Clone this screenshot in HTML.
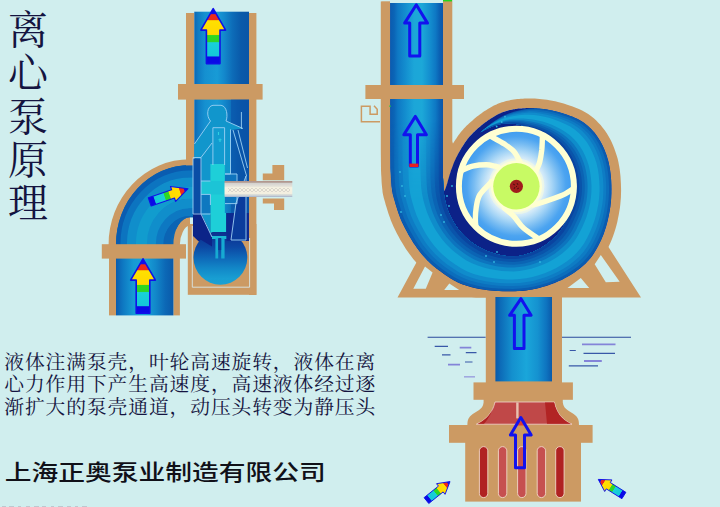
<!DOCTYPE html>
<html lang="zh-CN"><head><meta charset="utf-8"><title>离心泵原理</title>
<style>
html,body{margin:0;padding:0;background:#d0eeee;}
body{width:720px;height:507px;overflow:hidden;font-family:"Liberation Sans",sans-serif;}
svg{display:block;}
</style></head><body>
<svg width="720" height="507" viewBox="0 0 720 507" role="img" aria-label="离心泵原理">
<rect width="720" height="507" fill="#d0eeee"/>
<defs><linearGradient id="pL1" gradientUnits="userSpaceOnUse" x1="194" y1="0" x2="249" y2="0"><stop offset="0" stop-color="#0c66b4"/><stop offset="0.08" stop-color="#0f7cc4"/><stop offset="0.2" stop-color="#1590d0"/><stop offset="0.42" stop-color="#189bd6"/><stop offset="0.55" stop-color="#1388cc"/><stop offset="0.7" stop-color="#0d6cb8"/><stop offset="0.85" stop-color="#0a5aaa"/><stop offset="1" stop-color="#0a55a6"/></linearGradient><linearGradient id="pL2" gradientUnits="userSpaceOnUse" x1="116" y1="0" x2="174" y2="0"><stop offset="0" stop-color="#0b5cae"/><stop offset="0.12" stop-color="#0e78c2"/><stop offset="0.3" stop-color="#169ad4"/><stop offset="0.5" stop-color="#18a2d8"/><stop offset="0.68" stop-color="#1288ca"/><stop offset="0.85" stop-color="#0c68b6"/><stop offset="1" stop-color="#0a58a8"/></linearGradient><linearGradient id="pR1" gradientUnits="userSpaceOnUse" x1="390.4" y1="0" x2="443" y2="0"><stop offset="0" stop-color="#0a5cb0"/><stop offset="0.07" stop-color="#0b64b6"/><stop offset="0.14" stop-color="#0e78c4"/><stop offset="0.3" stop-color="#1490d0"/><stop offset="0.45" stop-color="#1ca6d8"/><stop offset="0.6" stop-color="#1ca8d8"/><stop offset="0.74" stop-color="#1490d0"/><stop offset="0.86" stop-color="#0e78c4"/><stop offset="0.93" stop-color="#0b62b4"/><stop offset="1" stop-color="#0a56aa"/></linearGradient><linearGradient id="pR2" gradientUnits="userSpaceOnUse" x1="495" y1="0" x2="552" y2="0"><stop offset="0" stop-color="#0a58a8"/><stop offset="0.1" stop-color="#0d6cb8"/><stop offset="0.3" stop-color="#1490ce"/><stop offset="0.55" stop-color="#1aa6da"/><stop offset="0.75" stop-color="#1592d0"/><stop offset="0.9" stop-color="#0e74c0"/><stop offset="1" stop-color="#0a5aaa"/></linearGradient><linearGradient id="rb" gradientUnits="userSpaceOnUse" x1="0" y1="55" x2="0" y2="0"><stop offset="0" stop-color="#0a0ae6"/><stop offset="0.12" stop-color="#0a0ae6"/><stop offset="0.14" stop-color="#14c8d8"/><stop offset="0.38" stop-color="#18d0d8"/><stop offset="0.40" stop-color="#2cd428"/><stop offset="0.51" stop-color="#30d820"/><stop offset="0.53" stop-color="#ffd800"/><stop offset="0.78" stop-color="#ffe000"/><stop offset="0.80" stop-color="#ee2a1a"/><stop offset="0.89" stop-color="#ee2a1a"/><stop offset="0.91" stop-color="#1010e8"/><stop offset="1" stop-color="#1010e8"/></linearGradient><path id="ra" d="M0 0 12.4 21.5 6.8 21.5 6.8 55 -6.8 55 -6.8 21.5 -12.4 21.5Z" fill="url(#rb)" stroke="#1010e8" stroke-width="1.6" stroke-linejoin="round"/><linearGradient id="sph" x1="0" y1="0" x2="0" y2="1"><stop offset="0" stop-color="#0c2c8c"/><stop offset="0.3" stop-color="#0c48a4"/><stop offset="0.5" stop-color="#0e68b8"/><stop offset="0.7" stop-color="#1288c8"/><stop offset="0.88" stop-color="#189ed2"/><stop offset="1" stop-color="#1aa0d4"/></linearGradient><radialGradient id="imp" gradientUnits="userSpaceOnUse" cx="516.4" cy="186.3" r="59"><stop offset="0.40" stop-color="#eef8fc"/><stop offset="0.5" stop-color="#cfe8f8"/><stop offset="0.6" stop-color="#a8d6f6"/><stop offset="0.72" stop-color="#78bcf2"/><stop offset="0.84" stop-color="#4ca4f0"/><stop offset="1" stop-color="#3a98f0"/></radialGradient><linearGradient id="sh" x1="0" y1="0" x2="0" y2="1"><stop offset="0" stop-color="#b09088"/><stop offset="0.1" stop-color="#b8a8a0"/><stop offset="0.15" stop-color="#d4d2d0"/><stop offset="0.34" stop-color="#e6e4da"/><stop offset="0.42" stop-color="#f6f2e2"/><stop offset="0.78" stop-color="#f3efe0"/><stop offset="0.85" stop-color="#d8dcd8"/><stop offset="0.94" stop-color="#c4ccd4"/><stop offset="1" stop-color="#9cacc8"/></linearGradient><pattern id="zz" patternUnits="userSpaceOnUse" x="228" y="188" width="4" height="4"><path d="M0 0l2 2l2-2M0 4l2-2l2 2" fill="none" stroke="#d0ccc4" stroke-width="0.7"/></pattern><linearGradient id="fade" gradientUnits="userSpaceOnUse" x1="0" y1="120" x2="0" y2="200"><stop offset="0" stop-color="#fff"/><stop offset="1" stop-color="#000"/></linearGradient><mask id="fm" maskUnits="userSpaceOnUse" x="380" y="0" width="80" height="210"><rect x="380" y="0" width="80" height="210" fill="url(#fade)"/></mask></defs>
<g id="left-pump"><path d="M108.6 245 A81.4 85 0 0 1 190 159.2 L190 225 A12.2 20.5 0 0 0 179.8 245Z" fill="#cc9a63"/><path d="M116 245 A74 79.2 0 0 1 190 165 L194 165 194 217.3 190 217.3 A16.6 27 0 0 0 173.4 245Z" fill="#0c68b6"/><clipPath id="elc"><path d="M116 245 A74 79.2 0 0 1 190 165 L194 165 194 217.3 190 217.3 A16.6 27 0 0 0 173.4 245Z"/></clipPath><g clip-path="url(#elc)" fill="none"><path d="M118 246 A72 76.3 0 0 1 190 167.7 L196 167.7" stroke="#0a5cb0" stroke-width="6"/><path d="M124 246 A66 70.0 0 0 1 190 174.0 L196 174.0" stroke="#0c74c0" stroke-width="7"/><path d="M132 246 A58 61.5 0 0 1 190 182.5 L196 182.5" stroke="#108ecb" stroke-width="10"/><path d="M142 246 A48 50.9 0 0 1 190 193.1 L196 193.1" stroke="#119cce" stroke-width="12"/><path d="M152 246 A38 40.3 0 0 1 190 203.7 L196 203.7" stroke="#108ecb" stroke-width="10"/><path d="M160 246 A30 31.8 0 0 1 190 212.2 L196 212.2" stroke="#0d78c2" stroke-width="8"/><path d="M167 246 A23 24.4 0 0 1 190 219.6 L196 219.6" stroke="#0b64b4" stroke-width="7"/></g><rect x="186" y="13" width="8.3" height="152.4" fill="#cc9a63"/><rect x="249" y="13" width="7.4" height="282" fill="#cc9a63"/><rect x="194.3" y="11.7" width="54.7" height="230" fill="url(#pL1)"/><rect x="187.8" y="224" width="68.6" height="70.8" fill="#cc9a63"/><path d="M192.3 226V287.2H249.6V238" fill="none" stroke="#d8e8e8" stroke-width="0.9"/><rect x="178" y="84" width="84.6" height="15.6" fill="#cc9a63"/><rect x="231" y="99.6" width="18" height="114" fill="#0a50a8" opacity="0.55"/><path d="M210.5 121 C206 116 207 106 213 105.3 H221 C227 106 228 116 226 121 L243 128.5 L231 130 V175 H225 V238 H201 V158 H194.4 V144Z" fill="#1196cc"/><rect x="193" y="159" width="8.2" height="55" fill="#0a4ea6"/><rect x="225" y="173.6" width="12" height="30" fill="#0e74be"/><rect x="213" y="127.7" width="11.6" height="37" fill="#129cd0"/><path d="M218.5 132v3M220 138.5v3.5M218.5 139.8h3" stroke="#30d0e0" stroke-width="1.1"/><rect x="210.4" y="164" width="14.4" height="74" fill="#1ecfd8"/><rect x="201" y="181" width="23.6" height="13.5" fill="#1cc4d6"/><rect x="201" y="194.5" width="9.4" height="19" fill="#0d78c0"/><path d="M193 213.5 H201.2 L210.4 233 V213.5 H226 V213 H249 V241 H226.5 L220 262 L193 236Z" fill="#0c2488"/><rect x="210.4" y="213" width="15.8" height="24" fill="#1ecfd8"/><clipPath id="spc"><rect x="190" y="232" width="62" height="56"/></clipPath><circle cx="220.4" cy="257.8" r="26.9" fill="url(#sph)" clip-path="url(#spc)"/><path d="M193 213.5 H201.2 L212 237 L212 246.5 L193 235Z" fill="#0c2488"/><path d="M226.5 213 H249 V241 H226.5Z" fill="#0c2a90"/><path d="M231 241 L236 205 L246 178 V241Z" fill="#0a3c9c"/><path d="M212 236 h14.3 v3 h-14.3z" fill="#1ab8d4"/><path d="M215.4 238 h2.8 v20.6 h-2.8z M221.2 238 h3.4 v20.6 h-3.4z" fill="#16aad2"/><path d="M218.2 238 h3 v12 h-3z" fill="#0c3c98"/><g fill="none" stroke="#9cd0f4" stroke-width="0.9"><path d="M210.5 121 C206 116 207 106 213 105.3 H221 C227 106 228 116 226 121 L243 128.5"/><path d="M210.5 121 L194.4 144"/><path d="M241.4 112 V129"/><path d="M212.9 165 V127.7 H224.6 V165"/><path d="M212 143 L201 157.5 H193 V214 H201 V157.5"/><path d="M230.5 129.4 V174 H225"/><path d="M233 130 L246.6 176 M238 130 L247.5 168"/><path d="M201 181 H210.4 M201 194.4 H210.4 V205"/><path d="M225 174 H237 V203.6 H225"/><path d="M236 203 L246 176 V240 H231 L236 203"/><path d="M201 214 L212 237 M201 214 H210.4"/></g><path d="M272.4 165H284.2V180.3H262.8V173.4H272.4Z M262.8 198.4H284.2V210H274V203.6H262.8Z" fill="#cc9a63"/><rect x="224.5" y="181" width="67.8" height="16" fill="url(#sh)"/><rect x="228" y="188" width="62" height="4" fill="url(#zz)"/><rect x="109" y="250" width="7" height="65.4" fill="#cc9a63"/><rect x="173.4" y="250" width="6.5" height="65.4" fill="#cc9a63"/><rect x="116" y="250" width="57.4" height="65.4" fill="url(#pL2)"/><rect x="101.8" y="244.2" width="84.2" height="14.4" fill="#cc9a63"/><use href="#ra" transform="translate(213.2 8.6)"/><use href="#ra" transform="translate(143 258.8) scale(1 0.99)"/><use href="#ra" transform="translate(188 188.8) rotate(71) scale(0.64 0.735)"/></g>
<g id="right-pump"><clipPath id="tc"><rect x="370" y="0" width="280" height="297.4"/></clipPath><path d="M380.8 1.2 380.8 150 381 170.1 381.1 172.4 381.2 174.8 381.4 177.2 381.5 179.7 381.6 182.1 381.8 184.4 382 186.6 382.2 188.5 382.4 190.1 382.5 191.5 382.7 193 383 194.5 383.4 196.2 383.8 197.9 384.4 199.9 385 202.1 385.7 204.7 386.6 207.5 387.5 210.6 388.5 213.8 389.7 217.1 390.9 220.5 392.3 223.8 393.7 227 395.3 230.3 396.9 233.5 398.7 236.8 400.4 239.9 402.3 243.1 404.1 246.1 405.9 248.9 407.7 251.6 409.5 254.1 411.4 256.6 413.2 258.9 415 261.1 416.9 263.2 418.7 265.2 420.5 267.1 422.4 269 424.3 270.8 426.2 272.5 428.1 274.1 429.9 275.6 431.9 277 433.8 278.5 435.8 279.9 437.8 281.3 439.9 282.7 442 284.2 444.3 285.8 446.8 287.3 449.5 288.9 452.3 290.4 455.4 291.8 458.4 293 461.5 294.1 464.8 295.2 468.1 296.1 471.5 297 475 297.8 478.7 298.5 482.4 299.1 486.3 299.6 490.4 300.1 494.6 300.4 498.9 300.7 503.3 300.8 507.5 300.9 511.7 300.9 515.6 300.8 519.3 300.7 522.9 300.4 526.3 300.1 529.6 299.6 532.8 299.1 536 298.5 539.2 297.8 542.4 297 545.7 296 549.1 295 552.5 293.9 555.9 292.7 559.4 291.4 562.8 289.9 566.2 288.3 569.6 286.6 572.8 284.8 576 282.8 579.2 280.8 582.3 278.6 585.4 276.3 588.5 273.8 591.4 271.2 594.2 268.4 596.8 265.5 599.2 262.4 601.5 259.3 603.5 256 605.4 252.8 607.2 249.5 608.8 246.2 610.3 242.9 611.8 239.6 613.1 236.1 614.3 232.5 615.4 229 616.4 225.4 617.3 221.9 618 218.3 618.7 214.9 619.3 211.4 619.9 207.9 620.3 204.4 620.6 200.9 620.9 197.4 621 193.9 621.1 190.4 621 186.9 620.9 183.4 620.7 179.9 620.5 176.4 620.1 172.8 619.7 169.2 619.1 165.7 618.4 162.1 617.6 158.6 616.6 155.2 615.5 151.9 614.3 148.6 613 145.3 611.6 142.1 610.1 139 608.4 136 606.6 133.1 604.7 130.3 602.7 127.7 600.6 125.1 598.3 122.7 596 120.3 593.5 118.1 590.9 116.1 588.2 114.1 585.2 112.2 582.1 110.5 578.9 109 575.7 107.7 572.6 106.5 569.5 105.4 566.5 104.5 563.7 103.6 560.8 102.7 557.9 102 555.1 101.3 552.2 100.7 549.5 100.3 546.9 99.8 544.3 99.5 541.9 99.2 539.5 98.9 537.1 98.7 534.8 98.5 532.6 98.5 530.4 98.5 528.4 98.5 526.5 98.5 524.7 98.6 522.8 98.7 520.9 98.8 519.1 98.9 517.3 99.1 515.6 99.3 513.9 99.5 512.3 99.8 510.7 100.1 509.2 100.4 507.6 100.7 506.2 101.1 504.7 101.4 503.3 101.9 501.9 102.3 500.5 102.8 499.1 103.3 497.8 103.8 496.5 104.4 495.2 105 493.9 105.6 492.6 106.3 491.4 106.9 490.1 107.7 488.8 108.5 487.5 109.3 486.1 110.2 484.6 111.1 483.1 112.1 481.6 113.2 480.1 114.3 478.5 115.4 477 116.6 475.5 117.8 474 119.1 472.5 120.4 471 121.7 469.5 123.1 468 124.4 466.5 125.8 465.2 127.2 463.9 128.6 462.7 130 461.5 131.3 460.5 132.6 459.4 134 458.4 135.3 457.4 136.7 456.5 138.2 455.4 139.7 454.4 141.3 453.3 143 452.3 144.7 451.2 146.5 450.2 148.4 449.2 150.2 448.2 152.1 447.3 154.1 446.4 156 445.5 158 444.7 160 443.9 161.9 443.2 163.9 442.5 165.8 441.9 167.6 441.2 169.6 440.5 171.6 439.9 173.7 439.4 175.6 438.8 177.5 438.4 179.2 437.9 180.7 437.6 181.9 437.2 182.9 437 183.7 436.8 184.3 436.6 184.8 436.4 185.2 436.2 185.7 435.9 186.4 435.6 187.1 435.5 187.4 444.5 190.8 444.7 190.2 445 189.6 445.2 189.1 445.4 188.5 445.7 187.9 445.9 187.2 446.2 186.3 446.6 185.2 447 183.9 447.4 182.3 447.9 180.7 448.4 178.8 449 177 449.5 175.1 450.1 173.2 450.7 171.4 451.3 169.6 452 167.8 452.7 166 453.4 164.2 454.1 162.3 454.9 160.5 455.7 158.7 456.5 157 457.4 155.3 458.3 153.6 459.2 151.9 460.2 150.2 461.2 148.6 462.2 147 463.1 145.5 464.1 144 465 142.6 465.9 141.3 466.8 140.1 467.7 139 468.6 137.8 469.6 136.7 470.6 135.5 471.7 134.3 472.9 133.1 474.2 131.8 475.5 130.5 476.9 129.3 478.3 128 479.7 126.8 481.1 125.6 482.5 124.5 483.9 123.4 485.3 122.4 486.7 121.4 488.1 120.4 489.5 119.4 490.8 118.5 492.1 117.7 493.4 116.9 494.6 116.2 495.7 115.5 496.8 114.9 497.9 114.4 498.9 113.8 500 113.3 501.1 112.9 502.2 112.4 503.4 112 504.5 111.5 505.7 111.2 506.9 110.8 508.1 110.5 509.3 110.2 510.6 109.9 512 109.6 513.4 109.3 514.8 109.1 516.3 108.9 517.8 108.7 519.4 108.5 521 108.4 522.7 108.3 524.4 108.2 526.2 108.1 528 108.1 529.8 108.1 531.7 108.1 533.7 108.1 535.7 108.2 537.8 108.4 540 108.6 542.3 108.9 544.6 109.2 547.1 109.6 549.6 110 552.2 110.5 554.8 111.1 557.4 111.7 560 112.5 562.7 113.3 565.5 114.2 568.4 115.2 571.2 116.2 574.1 117.4 576.9 118.6 579.5 120 582 121.5 584.3 123.1 586.6 124.9 588.7 126.7 590.8 128.7 592.7 130.7 594.6 132.9 596.3 135.1 598 137.5 599.6 140 601.1 142.6 602.5 145.3 603.8 148.1 605 151 606.1 154 607.1 157 608 160 608.8 163.1 609.4 166.3 610 169.5 610.4 172.8 610.8 176.1 611.1 179.4 611.3 182.7 611.4 186 611.5 189.2 611.4 192.5 611.3 195.8 611.1 199 610.9 202.2 610.5 205.5 610 208.8 609.5 212 608.9 215.3 608.2 218.6 607.4 221.9 606.5 225.2 605.5 228.5 604.5 231.7 603.3 234.9 602 238 600.6 241.1 599.1 244.1 597.6 247.1 595.9 250.1 594.1 253 592.2 255.8 590.2 258.5 588 261 585.7 263.4 583.1 265.8 580.5 268 577.7 270.1 574.8 272.2 571.9 274.1 568.9 275.9 566 277.6 563 279.2 559.9 280.7 556.8 282 553.7 283.3 550.5 284.5 547.3 285.5 544.1 286.5 541 287.4 538 288.2 535 288.9 532.1 289.5 529.2 290 526.2 290.4 523.1 290.8 519.9 291 516.5 291.2 512.9 291.3 509 291.3 504.9 291.3 500.8 291.1 496.6 290.9 492.6 290.6 488.7 290.3 485 289.8 481.5 289.3 478.1 288.6 474.8 287.9 471.7 287.1 468.6 286.3 465.6 285.3 462.7 284.4 460 283.3 457.4 282.2 454.9 280.9 452.6 279.6 450.3 278.2 448.1 276.8 446.1 275.4 444 273.9 442 272.5 440.1 271.1 438.2 269.8 436.4 268.5 434.7 267.1 433 265.7 431.4 264.2 429.7 262.7 428 261 426.3 259.2 424.6 257.4 422.9 255.5 421.2 253.5 419.5 251.4 417.8 249.2 416.2 246.9 414.5 244.5 412.8 241.9 411.1 239.1 409.4 236.2 407.6 233.2 406 230.1 404.4 227 402.9 224 401.5 221 400.2 218 399.1 215 398 211.8 397 208.8 396.1 205.8 395.2 202.9 394.5 200.3 393.8 198 393.3 196 392.8 194.4 392.5 193.1 392.3 191.9 392.1 190.7 391.9 189.4 391.8 188 391.6 186.3 391.4 184.3 391.2 182.2 391.1 179.9 391 177.6 390.9 175.2 390.7 172.7 390.6 170.3 390.5 168 390.4 60 390.4 0Z" fill="#cc9a63" clip-path="url(#tc)"/><path d="M443 0H452.3V141.3L456.5 157 450.7 171.4 446.6 185.2 444.5 190.8 443 188Z" fill="#cc9a63"/><path d="M397.5 297.4 L418.3 259 L470 285 H563 L607.5 245.5 L641 297.4Z" fill="#cc9a63"/><path d="M413.3 288.8 L425 266.6 L432.6 272.6 L425.8 288.8Z M444.2 290 L449.3 283.6 L459.2 290Z M600.8 255 L619.7 281.8 L605.8 282.2 L594.7 264.2Z M567.5 288 L580.8 278 L589.2 288Z" fill="#d0eeee"/><path d="M390.4 3 390.4 60 390.4 150 390.5 168.8 390.6 170.3 390.7 171.9 390.8 173.5 390.9 175.2 390.9 176.8 391 178.4 391.1 179.9 391.2 181.4 391.3 182.9 391.4 184.3 391.5 185.7 391.7 186.9 391.8 188 391.9 189 392 189.9 392.1 190.7 392.2 191.5 392.4 192.3 392.5 193.1 392.7 194 393 194.9 393.3 196 393.6 197.3 394 198.7 394.5 200.3 395 202 395.5 203.9 396.1 205.8 396.7 207.8 397.3 209.8 398 211.8 398.7 213.9 399.5 216 400.2 218 401.1 220 401.9 222 402.9 224 403.9 226 404.9 228 406 230.1 407.1 232.1 408.2 234.2 409.4 236.2 410.5 238.1 411.7 240.1 412.8 241.9 413.9 243.7 415.1 245.3 416.2 246.9 417.3 248.5 418.4 250 419.5 251.4 420.6 252.8 421.8 254.2 422.9 255.5 424 256.8 425.1 258 426.3 259.2 427.4 260.4 428.6 261.6 429.7 262.7 430.8 263.7 431.9 264.7 433 265.7 434.2 266.6 435.3 267.6 436.4 268.5 437.6 269.3 438.8 270.2 440.1 271.1 441.3 272 442.7 273 444 273.9 445.4 274.9 446.7 275.8 448.1 276.8 449.6 277.7 451.1 278.7 452.6 279.6 454.1 280.5 455.7 281.3 457.4 282.2 459.1 282.9 460.9 283.7 462.7 284.4 464.6 285 466.6 285.7 468.6 286.3 470.6 286.9 472.7 287.4 474.8 287.9 477 288.4 479.2 288.9 481.5 289.3 483.8 289.6 486.2 290 488.7 290.3 491.3 290.5 493.9 290.7 496.6 290.9 499.4 291.1 502.2 291.2 504.9 291.3 507.6 291.3 510.3 291.3 512.9 291.3 515.3 291.2 517.7 291.1 519.9 291 522.1 290.9 524.1 290.7 526.2 290.4 528.2 290.1 530.1 289.8 532.1 289.5 534 289.1 536 288.7 538 288.2 540 287.7 542 287.1 544.1 286.5 546.2 285.9 548.3 285.2 550.5 284.5 552.6 283.7 554.7 282.9 556.8 282 558.9 281.1 561 280.2 563 279.2 565 278.1 567 277 568.9 275.9 570.9 274.7 572.9 273.4 574.8 272.2 576.7 270.8 578.6 269.4 580.5 268 582.3 266.5 584 265 585.7 263.4 587.2 261.8 588.7 260.2 590.2 258.5 591.6 256.7 592.9 254.9 594.1 253 595.3 251.1 596.5 249.1 597.6 247.1 598.6 245.1 599.6 243.1 600.6 241.1 601.5 239 602.4 237 603.3 234.9 604.1 232.8 604.8 230.6 605.5 228.5 606.2 226.3 606.8 224.1 607.4 221.9 607.9 219.7 608.4 217.5 608.9 215.3 609.3 213.1 609.7 210.9 610 208.8 610.4 206.6 610.6 204.4 610.9 202.2 611 200.1 611.2 197.9 611.3 195.8 611.4 193.6 611.4 191.4 611.5 189.2 611.4 187.1 611.4 184.9 611.3 182.7 611.2 180.5 611 178.3 610.8 176.1 610.6 173.9 610.3 171.7 610 169.5 609.6 167.3 609.2 165.2 608.8 163.1 608.3 161 607.7 159 607.1 157 606.5 155 605.7 153 605 151 604.2 149.1 603.4 147.2 602.5 145.3 601.6 143.5 600.6 141.7 599.6 140 598.5 138.3 597.5 136.7 596.3 135.1 595.2 133.6 594 132.1 592.7 130.7 591.4 129.3 590.1 128 588.7 126.7 587.3 125.5 585.8 124.3 584.3 123.1 582.8 122 581.2 121 579.5 120 577.8 119.1 576 118.2 574.1 117.4 572.2 116.6 570.3 115.9 568.4 115.2 566.5 114.5 564.6 113.9 562.7 113.3 560.9 112.8 559.1 112.2 557.4 111.7 555.6 111.3 553.9 110.9 552.2 110.5 550.4 110.2 548.8 109.9 547.1 109.6 545.5 109.3 543.8 109.1 542.3 108.9 540.7 108.7 539.3 108.5 537.8 108.4 536.4 108.3 535 108.2 533.7 108.1 532.4 108.1 531.1 108.1 529.8 108.1 528.6 108.1 527.4 108.1 526.2 108.1 525 108.2 523.8 108.2 522.7 108.3 521.6 108.4 520.5 108.4 519.4 108.5 518.4 108.6 517.3 108.8 516.3 108.9 515.3 109 514.4 109.2 513.4 109.3 512.5 109.5 511.5 109.7 510.6 109.9 509.8 110.1 508.9 110.3 508.1 110.5 507.3 110.7 506.5 110.9 505.7 111.2 504.9 111.4 504.1 111.7 503.4 112 502.6 112.2 501.8 112.6 501.1 112.9 500.3 113.2 499.6 113.5 498.9 113.8 498.2 114.2 497.5 114.5 496.8 114.9 496.1 115.3 495.4 115.7 494.6 116.2 493.8 116.7 493 117.2 492.1 117.7 491.3 118.2 490.4 118.8 489.5 119.4 488.5 120 487.6 120.7 486.7 121.4 485.7 122 484.8 122.7 483.9 123.4 483 124.1 482 124.9 481.1 125.6 480.2 126.4 479.2 127.2 478.3 128 477.4 128.8 476.4 129.7 475.5 130.5 474.6 131.4 473.7 132.2 472.9 133.1 472.1 133.9 471.3 134.7 470.6 135.5 469.9 136.3 469.2 137 468.6 137.8 468 138.6 467.4 139.3 466.8 140.1 466.2 140.9 465.6 141.8 465 142.6 464.4 143.5 463.8 144.5 463.1 145.5 462.5 146.5 461.8 147.5 461.2 148.6 460.5 149.7 459.9 150.8 459.2 151.9 458.6 153 458 154.1 457.4 155.3 456.8 156.4 456.2 157.6 455.7 158.7 455.1 159.9 454.6 161.1 454.1 162.3 453.6 163.5 453.1 164.8 452.7 166 452.2 167.2 451.8 168.4 451.3 169.6 450.9 170.8 450.5 172 450.1 173.2 449.7 174.5 449.3 175.7 449 177 448.6 178.2 448.2 179.5 447.9 180.7 447.6 181.8 447.3 182.9 447 183.9 446.7 184.8 446.5 185.6 446.2 186.3 446 186.9 445.8 187.4 445.7 187.9 445.5 188.3 445.3 188.7 445.2 189.1 445.1 189.4 444.9 189.8 444.7 190.2 444.6 190.6 444.5 190.8 443 190 443 3Z" fill="#0c2288"/><path d="M390.4 3 390.4 60 390.4 120 390.4 150 390.5 168 391.1 178 391.6 186.3 393 194.9 395.3 203.3 397.9 211.5 400.8 219.4 404.4 227.1 408.3 234.4 412.6 241.5 417.2 248.3 422.2 254.7 427.7 260.7 433.6 266.2 440 271.1 446.6 275.7 453.2 280 460.3 283.4 467.8 286 475.3 288 482.9 289.5 490.4 290.4 497.9 291 505.4 291.3 512.7 291.3 520.1 291 527.3 290.3 534.5 289 541.6 287.2 548.5 285.1 555.3 282.6 562 279.7 568.3 276.3 574.5 272.4 580.3 268.1 585.8 263.3 590.6 257.9 594.7 252 598.3 245.8 601.4 239.4 604 232.9 606.2 226.3 607.9 219.6 609.3 212.9 610.4 206.3 611.1 199.6 611.4 192.9 611.4 186.3 611.1 179.7 610.5 173.1 609.5 166.5 608 160 606 153.7 603.5 147.5 600.5 141.6 596.9 136 592.8 130.8 588.1 126.1 582.9 122.1 577.2 118.8 571.2 116.2 565.1 114.1 559.2 112.2 553.3 110.7 547.4 109.6 541.6 108.8 535.9 108.2 530.1 108.4 524.5 109.3 519 110.4 513.8 111.8 508.8 113.5 503.9 115.6 499.4 118 495.1 120.8 491.1 123.6 487.3 126.5 483.6 129.6 480.2 132.6 476.7 135.5 473.4 138.6 470.4 141.9 467.6 145.4 465 149 462.6 152.7 460.5 156.6 458.5 160.5 456.8 164.6 455.4 168.8 454.1 173 453 177.4 452.1 181.8 451.3 186.3 450.5 190.4 450.5 190.4 451.3 186.3 452.1 181.8 453 177.4 454.1 173 455.4 168.8 456.8 164.6 458.5 160.5 460.5 156.6 462.6 152.7 465 149 467.6 145.4 470.4 141.9 473.4 138.6 476.7 135.5 480.2 132.6 484 130.3 488.1 128.2 492.2 126.5 496.5 125.1 500.9 124.1 505.3 123.6 509.8 123.5 514.2 123.8 518.6 124.5 522.8 125.5 526.9 126.9 530.9 128.1 534.9 129.2 538.9 130.7 542.7 132.4 546.4 134.3 550 136.6 553.3 139 556.5 141.7 559.6 144.6 562.4 147.7 564.9 151 567.3 154.5 569.4 158.1 571.2 161.9 572.8 165.8 574.1 169.8 575.1 173.8 575.8 177.9 576.3 182.1 576.4 186.3 576.3 190.5 575.8 194.7 575.1 198.8 574.1 202.8 572.8 206.8 571.2 210.7 569.4 214.5 567.6 218.3 565.8 222.2 563.6 225.9 561.2 229.6 558.6 233.1 555.6 236.5 552.4 239.6 548.9 242.6 545.2 245.3 541.2 247.8 537.1 250 532.8 252 528.3 253.6 523.6 254.9 518.8 255.9 514 256.3 509.1 256.2 504.2 255.7 499.3 254.8 494.5 253.6 489.8 252.1 485.2 250.3 480.7 248.1 476.4 245.6 472.3 242.8 468.3 239.7 464.6 236.3 461.2 232.7 458 228.7 455.1 224.6 452.5 220.3 450.2 215.8 448.2 211.1 446.6 206.3 445.3 201.4 444.3 196.4 443.7 191.4 443.4 186.3 443 178 443 168 443 150 443 120 443 60 443 3Z" fill="#0a5cb0"/><path d="M394.1 3 394.1 60 394.1 120 394.1 150 394.2 168 394.7 178 395.2 186.3 396.5 194.7 398.7 202.8 401.2 210.8 404 218.5 407.5 225.9 411.3 233.1 415.4 240 419.8 246.7 424.7 252.9 430.1 258.7 435.8 264.1 442 268.9 448.4 273.4 454.8 277.6 461.8 281 469 283.5 476.3 285.5 483.7 287 491.1 287.9 498.4 288.5 505.6 288.8 512.8 288.9 520 288.5 527.1 287.8 534.1 286.5 541 284.8 547.7 282.7 554.3 280.2 560.8 277.3 567 273.9 572.9 270.1 578.6 265.9 583.9 261.2 588.5 256 592.6 250.2 596 244.1 599 237.9 601.6 231.6 603.7 225.2 605.5 218.7 606.9 212.2 607.9 205.8 608.6 199.3 609 192.8 609 186.3 608.7 179.8 608.1 173.4 607.1 167 605.6 160.7 603.7 154.5 601.3 148.5 598.3 142.7 594.9 137.3 590.8 132.2 586.3 127.7 581.3 123.7 575.7 120.4 569.9 117.8 564 115.7 558.3 113.8 552.5 112.3 546.8 111.1 541.1 110.2 535.5 109.6 529.9 109.7 524.4 110.4 519 111.4 513.8 112.7 508.8 114.2 504 116.2 499.5 118.5 495.2 121.1 491.2 123.8 487.3 126.7 483.7 129.6 480.2 132.6 476.7 135.5 473.4 138.6 470.4 141.9 467.6 145.4 465 149 462.6 152.7 460.5 156.6 458.5 160.5 456.8 164.6 455.4 168.8 454.1 173 453 177.4 452.1 181.8 451.3 186.3 450.5 190.4 450.5 190.4 451.3 186.3 452.1 181.8 453 177.4 454.1 173 455.4 168.8 456.8 164.6 458.5 160.5 460.5 156.6 462.6 152.7 465 149 467.6 145.4 470.4 141.9 473.4 138.6 476.7 135.5 480.2 132.6 484 130.3 488.1 128.2 492.2 126.5 496.5 125.1 500.9 124.1 505.3 123.6 509.8 123.5 514.2 123.8 518.6 124.5 522.8 125.5 526.9 126.9 530.9 128.1 534.9 129.2 538.9 130.7 542.7 132.4 546.4 134.3 550 136.6 553.3 139 556.5 141.7 559.6 144.6 562.4 147.7 564.9 151 567.3 154.5 569.4 158.1 571.2 161.9 572.8 165.8 574.1 169.8 575.1 173.8 575.8 177.9 576.3 182.1 576.4 186.3 576.3 190.5 575.8 194.7 575.1 198.8 574.1 202.8 572.8 206.8 571.2 210.7 569.4 214.5 567.6 218.3 565.8 222.2 563.6 225.9 561.2 229.6 558.6 233.1 555.6 236.5 552.4 239.6 548.9 242.6 545.2 245.3 541.2 247.8 537.1 250 532.8 252 528.3 253.6 523.6 254.9 518.8 255.9 514 256.3 509.1 256.2 504.2 255.7 499.3 254.8 494.5 253.6 489.8 252.1 485.2 250.3 480.7 248.1 476.4 245.6 472.3 242.8 468.3 239.7 464.6 236.3 461.2 232.7 458 228.7 455.1 224.6 452.5 220.3 450.2 215.8 448.2 211.1 446.6 206.3 445.3 201.4 444.3 196.4 443.7 191.4 443.4 186.3 443 178 443 168 443 150 443 120 443 60 443 3Z" fill="#0c6ebc"/><path d="M398.3 3 398.3 60 398.3 120 398.3 150 398.4 168 398.9 178 399.4 186.3 400.6 194.4 402.7 202.3 405 210 407.7 217.5 411 224.7 414.6 231.6 418.6 238.3 422.8 244.8 427.6 250.8 432.7 256.5 438.3 261.7 444.3 266.4 450.4 270.8 456.7 274.8 463.4 278.1 470.4 280.7 477.5 282.6 484.6 284.1 491.8 285.1 498.9 285.7 505.9 286 512.9 286.1 519.9 285.7 526.8 285 533.6 283.7 540.2 282 546.8 279.9 553.2 277.4 559.4 274.6 565.4 271.2 571.2 267.5 576.6 263.4 581.7 258.8 586.2 253.7 590.1 248.1 593.4 242.2 596.3 236.2 598.8 230.1 600.9 223.9 602.7 217.7 604 211.4 605.1 205.2 605.8 198.9 606.1 192.6 606.2 186.3 605.9 180 605.3 173.8 604.3 167.6 602.9 161.5 601 155.5 598.7 149.7 595.8 144.1 592.5 138.8 588.6 133.8 584.2 129.4 579.4 125.5 574.1 122.2 568.5 119.6 562.8 117.5 557.2 115.6 551.7 114 546.1 112.8 540.6 111.9 535.1 111.2 529.7 111.1 524.2 111.7 519 112.5 513.9 113.6 508.9 115 504.1 116.8 499.6 119 495.3 121.4 491.3 124.1 487.4 126.8 483.7 129.7 480.2 132.6 476.7 135.5 473.4 138.6 470.4 141.9 467.6 145.4 465 149 462.6 152.7 460.5 156.6 458.5 160.5 456.8 164.6 455.4 168.8 454.1 173 453 177.4 452.1 181.8 451.3 186.3 450.5 190.4 450.5 190.4 451.3 186.3 452.1 181.8 453 177.4 454.1 173 455.4 168.8 456.8 164.6 458.5 160.5 460.5 156.6 462.6 152.7 465 149 467.6 145.4 470.4 141.9 473.4 138.6 476.7 135.5 480.2 132.6 484 130.3 488.1 128.2 492.2 126.5 496.5 125.1 500.9 124.1 505.3 123.6 509.8 123.5 514.2 123.8 518.6 124.5 522.8 125.5 526.9 126.9 530.9 128.1 534.9 129.2 538.9 130.7 542.7 132.4 546.4 134.3 550 136.6 553.3 139 556.5 141.7 559.6 144.6 562.4 147.7 564.9 151 567.3 154.5 569.4 158.1 571.2 161.9 572.8 165.8 574.1 169.8 575.1 173.8 575.8 177.9 576.3 182.1 576.4 186.3 576.3 190.5 575.8 194.7 575.1 198.8 574.1 202.8 572.8 206.8 571.2 210.7 569.4 214.5 567.6 218.3 565.8 222.2 563.6 225.9 561.2 229.6 558.6 233.1 555.6 236.5 552.4 239.6 548.9 242.6 545.2 245.3 541.2 247.8 537.1 250 532.8 252 528.3 253.6 523.6 254.9 518.8 255.9 514 256.3 509.1 256.2 504.2 255.7 499.3 254.8 494.5 253.6 489.8 252.1 485.2 250.3 480.7 248.1 476.4 245.6 472.3 242.8 468.3 239.7 464.6 236.3 461.2 232.7 458 228.7 455.1 224.6 452.5 220.3 450.2 215.8 448.2 211.1 446.6 206.3 445.3 201.4 444.3 196.4 443.7 191.4 443.4 186.3 443 178 443 168 443 150 443 120 443 60 443 3Z" fill="#0e7cc4"/><path d="M402.5 3 402.5 60 402.5 120 402.5 150 402.6 168 403 178 403.5 186.3 404.6 194.1 406.6 201.7 408.8 209.2 411.3 216.4 414.5 223.4 418 230.1 421.8 236.6 425.9 242.9 430.4 248.7 435.4 254.3 440.8 259.3 446.5 263.9 452.5 268.1 458.5 272.1 465 275.3 471.8 277.8 478.6 279.8 485.6 281.2 492.5 282.2 499.4 282.9 506.2 283.2 513 283.3 519.8 282.9 526.5 282.1 533.1 280.9 539.5 279.1 545.9 277.1 552.1 274.6 558.1 271.8 563.9 268.5 569.4 264.9 574.6 260.8 579.5 256.4 583.8 251.4 587.6 246 590.8 240.4 593.6 234.5 596.1 228.7 598.1 222.7 599.8 216.7 601.2 210.6 602.3 204.6 603 198.5 603.3 192.4 603.4 186.3 603.1 180.2 602.5 174.2 601.6 168.2 600.2 162.3 598.4 156.5 596.1 150.8 593.4 145.4 590.1 140.2 586.4 135.5 582.2 131.1 577.5 127.3 572.4 124.1 567.1 121.5 561.6 119.3 556.2 117.3 550.8 115.7 545.4 114.5 540.1 113.5 534.7 112.8 529.4 112.6 524.1 113 518.9 113.7 513.9 114.6 509 115.8 504.3 117.4 499.7 119.4 495.4 121.8 491.3 124.3 487.4 126.9 483.7 129.7 480.2 132.6 476.7 135.5 473.4 138.6 470.4 141.9 467.6 145.4 465 149 462.6 152.7 460.5 156.6 458.5 160.5 456.8 164.6 455.4 168.8 454.1 173 453 177.4 452.1 181.8 451.3 186.3 450.5 190.4 450.5 190.4 451.3 186.3 452.1 181.8 453 177.4 454.1 173 455.4 168.8 456.8 164.6 458.5 160.5 460.5 156.6 462.6 152.7 465 149 467.6 145.4 470.4 141.9 473.4 138.6 476.7 135.5 480.2 132.6 484 130.3 488.1 128.2 492.2 126.5 496.5 125.1 500.9 124.1 505.3 123.6 509.8 123.5 514.2 123.8 518.6 124.5 522.8 125.5 526.9 126.9 530.9 128.1 534.9 129.2 538.9 130.7 542.7 132.4 546.4 134.3 550 136.6 553.3 139 556.5 141.7 559.6 144.6 562.4 147.7 564.9 151 567.3 154.5 569.4 158.1 571.2 161.9 572.8 165.8 574.1 169.8 575.1 173.8 575.8 177.9 576.3 182.1 576.4 186.3 576.3 190.5 575.8 194.7 575.1 198.8 574.1 202.8 572.8 206.8 571.2 210.7 569.4 214.5 567.6 218.3 565.8 222.2 563.6 225.9 561.2 229.6 558.6 233.1 555.6 236.5 552.4 239.6 548.9 242.6 545.2 245.3 541.2 247.8 537.1 250 532.8 252 528.3 253.6 523.6 254.9 518.8 255.9 514 256.3 509.1 256.2 504.2 255.7 499.3 254.8 494.5 253.6 489.8 252.1 485.2 250.3 480.7 248.1 476.4 245.6 472.3 242.8 468.3 239.7 464.6 236.3 461.2 232.7 458 228.7 455.1 224.6 452.5 220.3 450.2 215.8 448.2 211.1 446.6 206.3 445.3 201.4 444.3 196.4 443.7 191.4 443.4 186.3 443 178 443 168 443 150 443 120 443 60 443 3Z" fill="#108ccc"/><path d="M408.3 3 408.3 60 408.3 120 408.3 150 408.4 168 408.7 178 409.2 186.3 410.2 193.7 412 201 414 208.1 416.4 215 419.3 221.6 422.6 228.1 426.1 234.3 430.1 240.3 434.4 245.9 439.1 251.2 444.2 256.1 449.6 260.4 455.3 264.5 461.1 268.3 467.3 271.4 473.7 273.9 480.2 275.8 486.8 277.3 493.5 278.3 500.1 279 506.6 279.4 513.1 279.4 519.6 279.1 526.1 278.3 532.4 277 538.6 275.2 544.6 273.2 550.5 270.8 556.3 268 561.7 264.8 567 261.3 571.9 257.4 576.5 253.1 580.6 248.3 584.2 243.2 587.2 237.8 589.9 232.2 592.3 226.6 594.3 221 596 215.3 597.3 209.5 598.4 203.7 599.1 197.9 599.5 192.1 599.5 186.3 599.2 180.5 598.7 174.7 597.8 169 596.5 163.3 594.7 157.8 592.5 152.4 589.9 147.2 586.9 142.3 583.3 137.7 579.3 133.5 575 129.8 570.2 126.6 565.1 124 560 121.7 554.8 119.8 549.7 118.1 544.5 116.8 539.3 115.7 534.2 115 529 114.7 523.9 114.8 518.9 115.2 513.9 115.9 509.1 116.9 504.4 118.3 499.9 120.1 495.6 122.3 491.5 124.6 487.5 127.1 483.8 129.8 480.2 132.6 476.7 135.5 473.4 138.6 470.4 141.9 467.6 145.4 465 149 462.6 152.7 460.5 156.6 458.5 160.5 456.8 164.6 455.4 168.8 454.1 173 453 177.4 452.1 181.8 451.3 186.3 450.5 190.4 450.5 190.4 451.3 186.3 452.1 181.8 453 177.4 454.1 173 455.4 168.8 456.8 164.6 458.5 160.5 460.5 156.6 462.6 152.7 465 149 467.6 145.4 470.4 141.9 473.4 138.6 476.7 135.5 480.2 132.6 484 130.3 488.1 128.2 492.2 126.5 496.5 125.1 500.9 124.1 505.3 123.6 509.8 123.5 514.2 123.8 518.6 124.5 522.8 125.5 526.9 126.9 530.9 128.1 534.9 129.2 538.9 130.7 542.7 132.4 546.4 134.3 550 136.6 553.3 139 556.5 141.7 559.6 144.6 562.4 147.7 564.9 151 567.3 154.5 569.4 158.1 571.2 161.9 572.8 165.8 574.1 169.8 575.1 173.8 575.8 177.9 576.3 182.1 576.4 186.3 576.3 190.5 575.8 194.7 575.1 198.8 574.1 202.8 572.8 206.8 571.2 210.7 569.4 214.5 567.6 218.3 565.8 222.2 563.6 225.9 561.2 229.6 558.6 233.1 555.6 236.5 552.4 239.6 548.9 242.6 545.2 245.3 541.2 247.8 537.1 250 532.8 252 528.3 253.6 523.6 254.9 518.8 255.9 514 256.3 509.1 256.2 504.2 255.7 499.3 254.8 494.5 253.6 489.8 252.1 485.2 250.3 480.7 248.1 476.4 245.6 472.3 242.8 468.3 239.7 464.6 236.3 461.2 232.7 458 228.7 455.1 224.6 452.5 220.3 450.2 215.8 448.2 211.1 446.6 206.3 445.3 201.4 444.3 196.4 443.7 191.4 443.4 186.3 443 178 443 168 443 150 443 120 443 60 443 3Z" fill="#13a2d5"/><path d="M420.4 3 420.4 60 420.4 120 420.4 150 420.4 168 420.7 178 421.1 186.3 421.9 192.9 423.2 199.4 424.9 205.8 426.9 212 429.4 218 432.2 223.8 435.3 229.4 438.8 234.8 442.6 239.9 446.8 244.7 451.3 249.2 456.2 253.2 461.2 256.9 466.4 260.4 472 263.3 477.7 265.6 483.6 267.6 489.5 269 495.5 270.1 501.5 270.9 507.5 271.3 513.4 271.4 519.4 271 525.2 270.1 531 268.8 536.6 267.1 542 265.1 547.3 262.8 552.4 260.1 557.3 257.1 561.9 253.7 566.2 250.1 570.3 246.1 573.9 241.8 577 237.2 579.7 232.3 582.1 227.4 584.3 222.4 586.3 217.4 587.9 212.3 589.2 207.2 590.3 202 591 196.8 591.4 191.5 591.5 186.3 591.2 181.1 590.7 175.9 589.9 170.7 588.7 165.6 587.1 160.6 585.1 155.7 582.8 151 580 146.5 576.9 142.3 573.4 138.5 569.6 134.9 565.4 131.9 561 129.2 556.5 126.9 551.9 124.8 547.2 123.1 542.5 121.6 537.8 120.4 533 119.5 528.3 118.9 523.5 118.5 518.8 118.4 514 118.7 509.3 119.2 504.7 120.2 500.2 121.5 495.9 123.3 491.7 125.3 487.7 127.5 483.9 130 480.2 132.6 476.7 135.5 473.4 138.6 470.4 141.9 467.6 145.4 465 149 462.6 152.7 460.5 156.6 458.5 160.5 456.8 164.6 455.4 168.8 454.1 173 453 177.4 452.1 181.8 451.3 186.3 450.5 190.4 450.5 190.4 451.3 186.3 452.1 181.8 453 177.4 454.1 173 455.4 168.8 456.8 164.6 458.5 160.5 460.5 156.6 462.6 152.7 465 149 467.6 145.4 470.4 141.9 473.4 138.6 476.7 135.5 480.2 132.6 484 130.3 488.1 128.2 492.2 126.5 496.5 125.1 500.9 124.1 505.3 123.6 509.8 123.5 514.2 123.8 518.6 124.5 522.8 125.5 526.9 126.9 530.9 128.1 534.9 129.2 538.9 130.7 542.7 132.4 546.4 134.3 550 136.6 553.3 139 556.5 141.7 559.6 144.6 562.4 147.7 564.9 151 567.3 154.5 569.4 158.1 571.2 161.9 572.8 165.8 574.1 169.8 575.1 173.8 575.8 177.9 576.3 182.1 576.4 186.3 576.3 190.5 575.8 194.7 575.1 198.8 574.1 202.8 572.8 206.8 571.2 210.7 569.4 214.5 567.6 218.3 565.8 222.2 563.6 225.9 561.2 229.6 558.6 233.1 555.6 236.5 552.4 239.6 548.9 242.6 545.2 245.3 541.2 247.8 537.1 250 532.8 252 528.3 253.6 523.6 254.9 518.8 255.9 514 256.3 509.1 256.2 504.2 255.7 499.3 254.8 494.5 253.6 489.8 252.1 485.2 250.3 480.7 248.1 476.4 245.6 472.3 242.8 468.3 239.7 464.6 236.3 461.2 232.7 458 228.7 455.1 224.6 452.5 220.3 450.2 215.8 448.2 211.1 446.6 206.3 445.3 201.4 444.3 196.4 443.7 191.4 443.4 186.3 443 178 443 168 443 150 443 120 443 60 443 3Z" fill="#0f8cca"/><path d="M426.2 3 426.2 60 426.2 120 426.2 150 426.2 168 426.4 178 426.8 186.3 427.4 192.5 428.6 198.6 430.1 204.6 431.9 210.5 434.2 216.2 436.8 221.7 439.7 227.1 443 232.2 446.5 237.1 450.5 241.6 454.7 245.9 459.3 249.8 464 253.3 469 256.6 474.2 259.4 479.6 261.7 485.2 263.6 490.8 265.1 496.5 266.2 502.2 267 507.9 267.4 513.6 267.5 519.2 267.1 524.8 266.2 530.3 264.9 535.6 263.2 540.8 261.3 545.8 259 550.6 256.3 555.1 253.4 559.4 250.1 563.5 246.6 567.3 242.8 570.6 238.7 573.6 234.3 576.2 229.7 578.4 225 580.5 220.4 582.4 215.7 584 210.9 585.4 206.1 586.4 201.2 587.1 196.2 587.5 191.3 587.6 186.3 587.4 181.3 586.9 176.4 586.1 171.5 584.9 166.6 583.4 161.9 581.5 157.3 579.3 152.8 576.8 148.6 573.9 144.6 570.6 140.8 567 137.4 563.2 134.4 559 131.7 554.8 129.4 550.5 127.3 546.1 125.5 541.6 123.9 537.1 122.7 532.5 121.7 527.9 121 523.3 120.3 518.7 120 514.1 120 509.5 120.3 504.9 121 500.4 122.2 496.1 123.7 491.9 125.6 487.8 127.7 483.9 130 480.2 132.6 476.7 135.5 473.4 138.6 470.4 141.9 467.6 145.4 465 149 462.6 152.7 460.5 156.6 458.5 160.5 456.8 164.6 455.4 168.8 454.1 173 453 177.4 452.1 181.8 451.3 186.3 450.5 190.4 450.5 190.4 451.3 186.3 452.1 181.8 453 177.4 454.1 173 455.4 168.8 456.8 164.6 458.5 160.5 460.5 156.6 462.6 152.7 465 149 467.6 145.4 470.4 141.9 473.4 138.6 476.7 135.5 480.2 132.6 484 130.3 488.1 128.2 492.2 126.5 496.5 125.1 500.9 124.1 505.3 123.6 509.8 123.5 514.2 123.8 518.6 124.5 522.8 125.5 526.9 126.9 530.9 128.1 534.9 129.2 538.9 130.7 542.7 132.4 546.4 134.3 550 136.6 553.3 139 556.5 141.7 559.6 144.6 562.4 147.7 564.9 151 567.3 154.5 569.4 158.1 571.2 161.9 572.8 165.8 574.1 169.8 575.1 173.8 575.8 177.9 576.3 182.1 576.4 186.3 576.3 190.5 575.8 194.7 575.1 198.8 574.1 202.8 572.8 206.8 571.2 210.7 569.4 214.5 567.6 218.3 565.8 222.2 563.6 225.9 561.2 229.6 558.6 233.1 555.6 236.5 552.4 239.6 548.9 242.6 545.2 245.3 541.2 247.8 537.1 250 532.8 252 528.3 253.6 523.6 254.9 518.8 255.9 514 256.3 509.1 256.2 504.2 255.7 499.3 254.8 494.5 253.6 489.8 252.1 485.2 250.3 480.7 248.1 476.4 245.6 472.3 242.8 468.3 239.7 464.6 236.3 461.2 232.7 458 228.7 455.1 224.6 452.5 220.3 450.2 215.8 448.2 211.1 446.6 206.3 445.3 201.4 444.3 196.4 443.7 191.4 443.4 186.3 443 178 443 168 443 150 443 120 443 60 443 3Z" fill="#0d74be"/><path d="M430.4 3 430.4 60 430.4 120 430.4 150 430.4 168 430.5 178 431 186.3 431.5 192.2 432.5 198.1 433.9 203.8 435.6 209.5 437.7 214.9 440.2 220.2 442.9 225.4 446 230.3 449.4 235 453.1 239.4 457.2 243.5 461.5 247.2 466.1 250.7 470.8 253.8 475.8 256.6 481 258.8 486.3 260.7 491.7 262.2 497.2 263.4 502.7 264.2 508.2 264.6 513.7 264.7 519.1 264.3 524.5 263.4 529.8 262.1 534.9 260.4 539.8 258.4 544.6 256.2 549.2 253.6 553.6 250.7 557.7 247.5 561.5 244.1 565.1 240.4 568.3 236.4 571.1 232.2 573.6 227.8 575.7 223.3 577.7 218.9 579.6 214.4 581.2 209.9 582.5 205.3 583.6 200.6 584.3 195.8 584.7 191.1 584.8 186.3 584.6 181.5 584.1 176.8 583.3 172.1 582.2 167.4 580.8 162.9 579 158.4 576.9 154.2 574.4 150.1 571.6 146.2 568.5 142.6 565.2 139.2 561.5 136.2 557.6 133.5 553.6 131.2 549.5 129 545.2 127.2 540.9 125.6 536.5 124.3 532.1 123.3 527.7 122.5 523.2 121.6 518.7 121.1 514.1 120.9 509.5 121.1 505 121.7 500.5 122.7 496.2 124.1 492 125.8 487.9 127.8 483.9 130.1 480.2 132.6 476.7 135.5 473.4 138.6 470.4 141.9 467.6 145.4 465 149 462.6 152.7 460.5 156.6 458.5 160.5 456.8 164.6 455.4 168.8 454.1 173 453 177.4 452.1 181.8 451.3 186.3 450.5 190.4 450.5 190.4 451.3 186.3 452.1 181.8 453 177.4 454.1 173 455.4 168.8 456.8 164.6 458.5 160.5 460.5 156.6 462.6 152.7 465 149 467.6 145.4 470.4 141.9 473.4 138.6 476.7 135.5 480.2 132.6 484 130.3 488.1 128.2 492.2 126.5 496.5 125.1 500.9 124.1 505.3 123.6 509.8 123.5 514.2 123.8 518.6 124.5 522.8 125.5 526.9 126.9 530.9 128.1 534.9 129.2 538.9 130.7 542.7 132.4 546.4 134.3 550 136.6 553.3 139 556.5 141.7 559.6 144.6 562.4 147.7 564.9 151 567.3 154.5 569.4 158.1 571.2 161.9 572.8 165.8 574.1 169.8 575.1 173.8 575.8 177.9 576.3 182.1 576.4 186.3 576.3 190.5 575.8 194.7 575.1 198.8 574.1 202.8 572.8 206.8 571.2 210.7 569.4 214.5 567.6 218.3 565.8 222.2 563.6 225.9 561.2 229.6 558.6 233.1 555.6 236.5 552.4 239.6 548.9 242.6 545.2 245.3 541.2 247.8 537.1 250 532.8 252 528.3 253.6 523.6 254.9 518.8 255.9 514 256.3 509.1 256.2 504.2 255.7 499.3 254.8 494.5 253.6 489.8 252.1 485.2 250.3 480.7 248.1 476.4 245.6 472.3 242.8 468.3 239.7 464.6 236.3 461.2 232.7 458 228.7 455.1 224.6 452.5 220.3 450.2 215.8 448.2 211.1 446.6 206.3 445.3 201.4 444.3 196.4 443.7 191.4 443.4 186.3 443 178 443 168 443 150 443 120 443 60 443 3Z" fill="#0b64b4"/><path d="M434.6 3 434.6 60 434.6 120 434.6 150 434.6 168 434.7 178 435.1 186.3 435.6 192 436.5 197.5 437.7 203 439.3 208.4 441.2 213.7 443.5 218.8 446.1 223.7 449 228.4 452.3 232.9 455.8 237.1 459.6 241.1 463.8 244.7 468.2 248.1 472.7 251.1 477.5 253.7 482.4 256 487.5 257.9 492.7 259.4 497.9 260.5 503.2 261.3 508.5 261.8 513.8 261.9 519 261.5 524.2 260.6 529.3 259.3 534.2 257.6 538.9 255.6 543.5 253.4 547.9 250.8 552 248 555.9 244.9 559.6 241.5 562.9 238 565.9 234.1 568.6 230.1 571 225.9 573 221.7 574.9 217.4 576.8 213.2 578.4 208.9 579.7 204.5 580.7 200 581.5 195.4 581.9 190.9 582 186.3 581.8 181.7 581.4 177.2 580.6 172.7 579.5 168.2 578.1 163.8 576.4 159.6 574.4 155.5 572 151.5 569.4 147.8 566.5 144.3 563.3 141 559.8 138 556.2 135.4 552.4 133 548.4 130.8 544.4 128.9 540.2 127.3 536 126 531.7 124.9 527.4 123.9 523.1 122.9 518.6 122.2 514.2 121.9 509.6 121.9 505.1 122.3 500.7 123.2 496.3 124.4 492.1 126 487.9 128 484 130.2 480.2 132.6 476.7 135.5 473.4 138.6 470.4 141.9 467.6 145.4 465 149 462.6 152.7 460.5 156.6 458.5 160.5 456.8 164.6 455.4 168.8 454.1 173 453 177.4 452.1 181.8 451.3 186.3 450.5 190.4 450.5 190.4 451.3 186.3 452.1 181.8 453 177.4 454.1 173 455.4 168.8 456.8 164.6 458.5 160.5 460.5 156.6 462.6 152.7 465 149 467.6 145.4 470.4 141.9 473.4 138.6 476.7 135.5 480.2 132.6 484 130.3 488.1 128.2 492.2 126.5 496.5 125.1 500.9 124.1 505.3 123.6 509.8 123.5 514.2 123.8 518.6 124.5 522.8 125.5 526.9 126.9 530.9 128.1 534.9 129.2 538.9 130.7 542.7 132.4 546.4 134.3 550 136.6 553.3 139 556.5 141.7 559.6 144.6 562.4 147.7 564.9 151 567.3 154.5 569.4 158.1 571.2 161.9 572.8 165.8 574.1 169.8 575.1 173.8 575.8 177.9 576.3 182.1 576.4 186.3 576.3 190.5 575.8 194.7 575.1 198.8 574.1 202.8 572.8 206.8 571.2 210.7 569.4 214.5 567.6 218.3 565.8 222.2 563.6 225.9 561.2 229.6 558.6 233.1 555.6 236.5 552.4 239.6 548.9 242.6 545.2 245.3 541.2 247.8 537.1 250 532.8 252 528.3 253.6 523.6 254.9 518.8 255.9 514 256.3 509.1 256.2 504.2 255.7 499.3 254.8 494.5 253.6 489.8 252.1 485.2 250.3 480.7 248.1 476.4 245.6 472.3 242.8 468.3 239.7 464.6 236.3 461.2 232.7 458 228.7 455.1 224.6 452.5 220.3 450.2 215.8 448.2 211.1 446.6 206.3 445.3 201.4 444.3 196.4 443.7 191.4 443.4 186.3 443 178 443 168 443 150 443 120 443 60 443 3Z" fill="#0a54aa"/><path d="M438.8 3 438.8 60 438.8 120 438.8 150 438.8 168 438.8 178 439.3 186.3 439.6 191.7 440.4 197 441.5 202.2 442.9 207.4 444.7 212.4 446.8 217.3 449.3 222 452.1 226.5 455.1 230.8 458.5 234.9 462.1 238.7 466 242.2 470.2 245.4 474.6 248.3 479.1 250.9 483.8 253.1 488.7 255 493.6 256.5 498.6 257.7 503.7 258.5 508.8 259 513.9 259.1 518.9 258.7 523.9 257.7 528.8 256.4 533.5 254.8 538 252.8 542.4 250.6 546.5 248.1 550.5 245.3 554.1 242.3 557.6 239 560.7 235.5 563.6 231.9 566.1 228 568.4 224 570.3 220 572.1 215.9 574 212 575.6 207.8 576.9 203.6 577.9 199.4 578.6 195 579.1 190.7 579.2 186.3 579 181.9 578.6 177.6 577.8 173.2 576.8 169 575.4 164.8 573.8 160.7 571.9 156.8 569.7 153 567.2 149.4 564.4 146 561.4 142.8 558.2 139.9 554.8 137.2 551.2 134.8 547.4 132.6 543.5 130.6 539.6 129 535.5 127.6 531.3 126.5 527.1 125.4 522.9 124.2 518.6 123.4 514.2 122.8 509.7 122.7 505.2 122.9 500.8 123.6 496.4 124.8 492.2 126.3 488 128.1 484 130.2 480.2 132.6 476.7 135.5 473.4 138.6 470.4 141.9 467.6 145.4 465 149 462.6 152.7 460.5 156.6 458.5 160.5 456.8 164.6 455.4 168.8 454.1 173 453 177.4 452.1 181.8 451.3 186.3 450.5 190.4 450.5 190.4 451.3 186.3 452.1 181.8 453 177.4 454.1 173 455.4 168.8 456.8 164.6 458.5 160.5 460.5 156.6 462.6 152.7 465 149 467.6 145.4 470.4 141.9 473.4 138.6 476.7 135.5 480.2 132.6 484 130.3 488.1 128.2 492.2 126.5 496.5 125.1 500.9 124.1 505.3 123.6 509.8 123.5 514.2 123.8 518.6 124.5 522.8 125.5 526.9 126.9 530.9 128.1 534.9 129.2 538.9 130.7 542.7 132.4 546.4 134.3 550 136.6 553.3 139 556.5 141.7 559.6 144.6 562.4 147.7 564.9 151 567.3 154.5 569.4 158.1 571.2 161.9 572.8 165.8 574.1 169.8 575.1 173.8 575.8 177.9 576.3 182.1 576.4 186.3 576.3 190.5 575.8 194.7 575.1 198.8 574.1 202.8 572.8 206.8 571.2 210.7 569.4 214.5 567.6 218.3 565.8 222.2 563.6 225.9 561.2 229.6 558.6 233.1 555.6 236.5 552.4 239.6 548.9 242.6 545.2 245.3 541.2 247.8 537.1 250 532.8 252 528.3 253.6 523.6 254.9 518.8 255.9 514 256.3 509.1 256.2 504.2 255.7 499.3 254.8 494.5 253.6 489.8 252.1 485.2 250.3 480.7 248.1 476.4 245.6 472.3 242.8 468.3 239.7 464.6 236.3 461.2 232.7 458 228.7 455.1 224.6 452.5 220.3 450.2 215.8 448.2 211.1 446.6 206.3 445.3 201.4 444.3 196.4 443.7 191.4 443.4 186.3 443 178 443 168 443 150 443 120 443 60 443 3Z" fill="#0a44a0"/><rect x="390.4" y="3" width="52.6" height="200" fill="url(#pR1)" mask="url(#fm)"/><g fill="#30b8e0"><circle cx="400" cy="172" r="0.9"/><circle cx="402" cy="186" r="0.9"/><circle cx="405" cy="196" r="0.9"/><circle cx="401" cy="212" r="0.9"/><circle cx="447" cy="196" r="0.9"/><circle cx="449" cy="206" r="0.9"/><circle cx="452" cy="186" r="0.9"/><circle cx="441" cy="215" r="0.9"/><circle cx="444" cy="222" r="0.9"/><circle cx="486" cy="256" r="0.9"/><circle cx="494" cy="262" r="0.9"/><circle cx="497" cy="252" r="0.9"/><circle cx="540" cy="262" r="0.9"/><circle cx="505" cy="116.7" r="0.9"/><circle cx="501.7" cy="122" r="0.9"/><circle cx="496.7" cy="126.5" r="0.9"/></g><circle cx="516.4" cy="186.3" r="58" fill="url(#imp)"/><clipPath id="ic"><circle cx="516.4" cy="186.3" r="60"/></clipPath><path d="M521.5 165.5C521.2 164.8 520.9 163.8 519.7 161.5C518.5 159.2 516.6 154.6 514.1 151.7C511.6 148.8 508.5 146.8 504.5 144.1C500.5 141.4 492.9 137.5 490 135.8C487.1 134.2 487.5 134.5 487 134.2M535.5 172.5C535.7 171.9 536.2 170.7 536.9 168.9C537.6 167.2 538.9 165.2 539.7 162C540.5 158.8 541.3 153.7 541.8 149.6C542.2 145.5 542.3 140 542.4 137.2C542.5 134.4 542.4 133.7 542.4 133M533 205C533.7 204.8 533.9 204.9 537 204C540.1 203.1 546.7 201 551.4 199.3C556.1 197.6 561.3 195.8 565.2 193.8C569.1 191.8 572.9 188.9 575 187.5C577.1 186.1 577.5 185.8 578 185.5M504.5 208C504.9 208.4 505.6 209 507.2 210.4C508.8 211.8 511.3 213.6 514.1 216.6C516.9 219.6 519.6 224.6 523.8 228.3C527.9 232 536 236.9 539 239C542 241.1 541.5 240.7 542 241M491.5 181.5C491.1 181.9 491.3 181.8 489.3 184.1C487.3 186.4 481.8 191.3 479.6 195.2C477.4 199.1 476.9 203 476.2 207.6C475.5 212.2 475.3 218.9 475.5 222.8C475.7 226.7 476.9 229 477.5 231C478.1 233 478.8 234.3 479 235M498 167C497.5 166.9 496.7 166.6 494.8 166.2C492.9 165.8 490.2 164.8 486.5 164.8C482.8 164.8 477.1 165.2 472.7 166.2C468.3 167.2 462.9 170 460.3 171C457.7 172 457.6 172.2 457 172.4" fill="none" stroke="#ffffd2" stroke-width="5.4" stroke-linecap="round" clip-path="url(#ic)"/><circle cx="516.4" cy="186.3" r="57.5" fill="none" stroke="#ffffd2" stroke-width="6"/><circle cx="516.4" cy="186.3" r="28" fill="#ffffd2" opacity="0.45"/><circle cx="516.4" cy="186.3" r="25.6" fill="#ffffd2"/><circle cx="516.4" cy="186.3" r="23.2" fill="#c8fa64"/><circle cx="516.4" cy="186.3" r="6.6" fill="#a01c1c"/><path d="M513 184l2 1M517 183l1 2M519 188l-2 1M514 189l1-2M516 186l1 1" stroke="#501010" stroke-width="1"/><rect x="365.4" y="85" width="98.6" height="14" fill="#cc9a63"/><path d="M380 121.7H361.4V106.2H370.1V114.3H377.2V109.2L374 105.8" fill="none" stroke="#cc9a63" stroke-width="1.5"/><rect x="389.4" y="105.4" width="1.2" height="1.6" fill="#20d040"/><rect x="443" y="0" width="9" height="1.4" fill="#20d820"/><rect x="380" y="0" width="10" height="1.3" fill="#d0eeee"/><rect x="390" y="0" width="53" height="3" fill="#d0eeee"/><rect x="485.8" y="297" width="76.2" height="86" fill="#cc9a63"/><rect x="495.4" y="297" width="56.6" height="84.4" fill="url(#pR2)"/><rect x="473.5" y="382.4" width="99.4" height="17.4" fill="#cc9a63"/><path d="M483.6 399 H562.8 V402.5 C563.5 410 571 411.5 575.5 415.5 C578.6 418.5 579 421 579 426 H467.4 C467.4 421 467.8 418.5 471 415.5 C475.5 411.5 483 410 483.6 402.5Z" fill="#cc9a63"/><path d="M495 402 H554.4 C556 412 562 420 572 424.2 H476.4 C486 420 493 412 495 402Z" fill="#c04848" stroke="#f0d8d0" stroke-width="0.8"/><path d="M495 402.4 C493 412 486 420 477.6 423.8 H484 C489 418 493 410 495 402.4Z" fill="#b02222"/><path d="M545 402.4 H554.2 C556 412 562 420 571 423.8 H547Z" fill="#b22424"/><rect x="516.2" y="402.4" width="2.4" height="16" fill="#e8c0b0"/><rect x="449" y="425" width="143.6" height="17.8" fill="#cc9a63"/><rect x="465.2" y="442" width="115.8" height="59.6" fill="#cc9a63"/><rect x="479.40000000000003" y="446.6" width="8.4" height="51" rx="4.2" fill="#b02222" stroke="#f0d8c8" stroke-width="0.9"/><rect x="498.40000000000003" y="446.6" width="8.4" height="51" rx="4.2" fill="#c65050" stroke="#f0d8c8" stroke-width="0.9"/><rect x="517.5999999999999" y="446.6" width="8.4" height="51" rx="4.2" fill="#c65050" stroke="#f0d8c8" stroke-width="0.9"/><rect x="537.1999999999999" y="446.6" width="8.4" height="51" rx="4.2" fill="#c65050" stroke="#f0d8c8" stroke-width="0.9"/><rect x="555.6999999999999" y="446.6" width="8.4" height="51" rx="4.2" fill="#b02222" stroke="#f0d8c8" stroke-width="0.9"/><path d="M427.6 337.3H485.6M562 337.3H631" stroke="#2a4a9c" stroke-width="1.1"/><path d="M434.7 346.4H448M465.8 352.6H476.5M442 354.8H450.5M465 362H472.5M569.7 350.5H575.8M583.5 353.4H615M568.8 365.8H598" stroke="#3858a8" stroke-width="1.2"/><path d="M459.7 347.6H471.3M448 364.6H460M582 344.4H615.5M584 361H601.8" stroke="#8484d8" stroke-width="1.8"/><path d="M464 376.8H475" stroke="#a0a8e0" stroke-width="1.6"/><path d="M416.3 4.8 L427.5 23.1 H419.8 V55.9 H409.7 V23.1 H404.6Z" fill="none" stroke="#1212ee" stroke-width="3.0" stroke-linejoin="round"/><path d="M415.4 116.4 L426.4 134.8 H417.5 V166.1 H410.3 V134.8 H403.8Z" fill="none" stroke="#1212ee" stroke-width="3.0" stroke-linejoin="round"/><rect x="409.4" y="163.6" width="9" height="3.4" fill="#e82020"/><path d="M521 298.7 L531.1 315.3 H524 V348.6 H514.4 V315.3 H509.6Z" fill="none" stroke="#1212ee" stroke-width="3.0" stroke-linejoin="round"/><path d="M520.8 419 l3.6 6.4 h-7.2z" fill="#e04030"/><circle cx="520.8" cy="419.6" r="1.6" fill="#f8e020"/><path d="M520.8 417.6 L531.2 435 H524.5 V467.7 H515.5 V435 H510.4Z" fill="none" stroke="#1212ee" stroke-width="3.0" stroke-linejoin="round"/><use href="#ra" transform="translate(450 481.6) rotate(51.2) scale(0.55)"/><use href="#ra" transform="translate(598.3 479.4) rotate(-57.8) scale(0.55)"/></g>
<g id="text"><g fill="#141440" aria-label="离心泵原理" font-family="'Liberation Serif','Noto Serif CJK SC',serif" font-size="40"><title>离心泵原理</title><text x="8" y="44.2">离</text><text x="8" y="87.4">心</text><text x="8" y="130.7">泵</text><text x="8" y="174">原</text><text x="8" y="217.2">理</text></g><g fill="#141440" aria-label="液体注满泵壳，叶轮高速旋转，液体在离" font-family="'Liberation Serif','Noto Serif CJK SC',serif" font-size="19.8"><title>液体注满泵壳，叶轮高速旋转，液体在离</title><text x="4.3" y="368.6" textLength="371" lengthAdjust="spacing">液体注满泵壳，叶轮高速旋转，液体在离</text></g><g fill="#141440" aria-label="心力作用下产生高速度，高速液体经过逐" font-family="'Liberation Serif','Noto Serif CJK SC',serif" font-size="19.8"><title>心力作用下产生高速度，高速液体经过逐</title><text x="4.3" y="391.4" textLength="371" lengthAdjust="spacing">心力作用下产生高速度，高速液体经过逐</text></g><g fill="#141440" aria-label="渐扩大的泵壳通道，动压头转变为静压头" font-family="'Liberation Serif','Noto Serif CJK SC',serif" font-size="19.8"><title>渐扩大的泵壳通道，动压头转变为静压头</title><text x="4.3" y="414.2" textLength="371" lengthAdjust="spacing">渐扩大的泵壳通道，动压头转变为静压头</text></g><g fill="#101018" aria-label="上海正奥泵业制造有限公司" font-family="'Liberation Sans','Noto Sans CJK SC',sans-serif" font-size="22" font-weight="500"><title>上海正奥泵业制造有限公司</title><text x="4.8" y="480.4" textLength="321" lengthAdjust="spacingAndGlyphs">上海正奥泵业制造有限公司</text></g><path d="M2 506.5h4m3 0h5m4 0h3m5 0h4m4 0h5m3 0h4m5 0h3m4 0h5m4 0h4m4 0h3m4 0h5" stroke="#b0a8b8" stroke-width="0.8" opacity="0.7"/></g>
</svg>
</body></html>
